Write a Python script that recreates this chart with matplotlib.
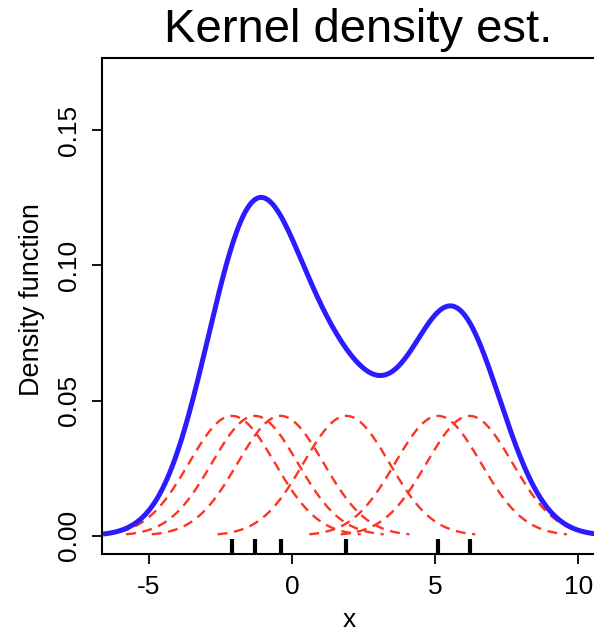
import numpy as np
import matplotlib
matplotlib.use("Agg")
import matplotlib.pyplot as plt

plt.rcParams["font.family"] = ["Liberation Sans", "DejaVu Sans"]

# sample and Gaussian kernel bandwidth
samples = [-2.1, -1.3, -0.4, 1.9, 5.1, 6.2]
bandwidth = 1.5

x_ticks = [-5, 0, 5, 10]
y_ticks = [0.00, 0.05, 0.10, 0.15]
y_ticklabels = ["0.00", "0.05", "0.10", "0.15"]

blue = "#2b1bff"
red = "#ff3322"


def kernel(x, center, h, n):
    return np.exp(-0.5 * ((x - center) / h) ** 2) / (h * np.sqrt(2 * np.pi)) / n


W, H = 594, 631
fig = plt.figure(figsize=(W / 100, H / 100), dpi=100)
left, right, top, bottom = 102, 596.6, 58, 554
ax = fig.add_axes([left / W, 1 - bottom / H, (right - left) / W, (bottom - top) / H])

n = len(samples)
# individual scaled kernels, each drawn over +/- 3 bandwidths
for s in samples:
    xs = np.linspace(s - 3 * bandwidth, s + 3 * bandwidth, 300)
    ax.plot(xs, kernel(xs, s, bandwidth, n), color=red, lw=1.7,
            dashes=(4.2, 2.8), dash_capstyle="butt", zorder=2)

# kernel density estimate
grid = np.linspace(min(samples) - 3 * bandwidth, max(samples) + 3 * bandwidth, 800)
dens = sum(kernel(grid, s, bandwidth, n) for s in samples)
ax.plot(grid, dens, color=blue, lw=3.6, zorder=3, solid_capstyle="butt")

# rug of the sample points
ax.vlines(samples, 0, 0.03, transform=ax.get_xaxis_transform(),
          color="black", lw=3, zorder=4)

ax.set_xlim(-6.64, 10.64)
ax.set_ylim(-0.0068, 0.1768)

ax.set_xticks(x_ticks)
ax.set_xticklabels([str(t) for t in x_ticks])
ax.set_yticks(y_ticks)
ax.set_yticklabels(y_ticklabels, rotation=90, va="center")
ax.tick_params(direction="out", length=7, width=1.3, labelsize=19, pad=8)
for sp in ax.spines.values():
    sp.set_linewidth(1.5)

fig.text(32 / W, 1 - 300 / H, "Density function", rotation=90,
         ha="center", va="center", fontsize=19.5)
fig.text(349 / W, 1 - 627 / H, "x", ha="center", va="baseline", fontsize=19)
fig.text(358 / W, 1 - 30 / H, "Kernel density est.", ha="center",
         va="center", fontsize=34)

fig.savefig("out.png", dpi=100)
